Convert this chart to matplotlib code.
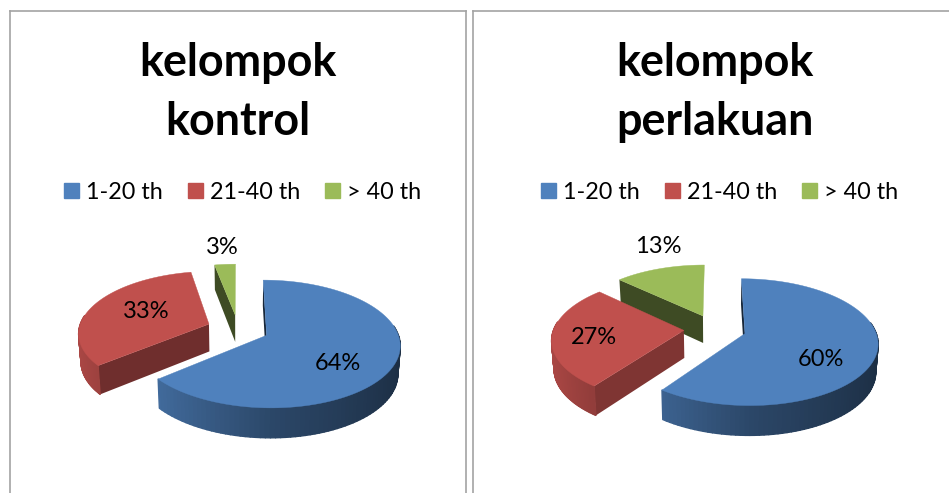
import matplotlib
matplotlib.use("Agg")
import matplotlib.pyplot as plt
import numpy as np
from matplotlib.collections import PolyCollection
from matplotlib.lines import Line2D
from matplotlib.patches import Polygon

categories = ["1-20 th", "21-40 th", "> 40 th"]
titles = ["kelompok\nkontrol", "kelompok\nperlakuan"]
kontrol = [64, 33, 3]
perlakuan = [60, 27, 13]

colors = ["#4f81bd", "#c0504d", "#9bbb59"]
W, H = 949, 493
EXPLODE = 0.24
# perspective of the 3d pie, in pixels per unit radius
SCALE_X, SCALE_Y, TILT = 130, 61, 0.134

plt.rcParams["font.family"] = ["Lato", "DejaVu Sans"]


def project(x, y, center, bottom=False):
    w = 1 + TILT * y
    px = SCALE_X * x / w
    py = SCALE_Y * y / w
    if bottom:
        px = px * 0.985
        py = py - (27.5 - 2.2 * y)
    return center[0] + px, center[1] - py


def shade(color, factor):
    return tuple(c * factor for c in matplotlib.colors.to_rgb(color))


def draw_slice(ax, wedge, color, center, wall_shade):
    t = np.radians(np.linspace(wedge.theta1, wedge.theta2, 120))
    ox, oy = wedge.center
    x = ox + np.cos(t)
    y = oy + np.sin(t)

    # flat cut faces, only the ones turned to the viewer
    for angle, sign in ((t[0], 1), (t[-1], -1)):
        nx, ny = sign * np.sin(angle), -sign * np.cos(angle)
        if ny < -1e-6 or (abs(ny) < 1e-6 and nx < 0):
            ex = np.array([ox, ox + np.cos(angle)])
            ey = np.array([oy, oy + np.sin(angle)])
            tx, ty = project(ex, ey, center)
            bx, by = project(ex, ey, center, bottom=True)
            pts = np.c_[np.r_[tx, bx[::-1]], np.r_[ty, by[::-1]]]
            ax.add_patch(Polygon(pts, fc=shade(color, wall_shade), ec="none", zorder=2))

    # rounded side, shaded strip by strip
    tx, ty = project(x, y, center)
    bx, by = project(x, y, center, bottom=True)
    keep = [i for i in range(len(t) - 1) if np.sin(t[i]) < 0.15]
    quads = [[(tx[i], ty[i]), (tx[i + 1], ty[i + 1]), (bx[i + 1], by[i + 1]), (bx[i], by[i])]
             for i in keep]
    factors = np.interp(np.cos(t[keep]), [-1, 0, 1], [0.9, 0.55, 0.36])
    side = PolyCollection(quads, facecolors=[shade(color, f) for f in factors],
                          edgecolors="face", linewidths=1.0, zorder=3)
    ax.add_collection(side)

    # top face
    fx, fy = project(np.r_[ox, x], np.r_[oy, y], center)
    ax.add_patch(Polygon(np.c_[fx, fy], fc=color, ec=color, lw=0.3, zorder=4))


def draw_panel(left, right, top, bottom, center, values, title, label_pos, wall_shades):
    ax = fig.add_axes([left / W, 1 - bottom / H, (right - left) / W, (bottom - top) / H])
    wedges, _ = ax.pie(values, explode=[EXPLODE] * len(values), startangle=90, counterclock=False)
    ax.set_aspect("auto")
    ax.set_frame_on(True)
    ax.set_xlim(left, right)
    ax.set_ylim(bottom, top)
    ax.set_xticks([])
    ax.set_yticks([])
    for s in ax.spines.values():
        s.set_color("#a3a3a3")
        s.set_linewidth(1.2)

    geometry = list(wedges)
    for w in wedges:
        w.remove()
    # back slices first, the big blue one last
    for i in (2, 1, 0):
        draw_slice(ax, geometry[i], colors[i], center, wall_shades[i])

    for v, (lx, ly) in zip(values, label_pos):
        ax.text(lx, ly, f"{v}%", fontsize=17, color="black", ha="center", va="center", zorder=6)

    ax.text(center[0], 92.5, title, fontsize=32.3, fontweight="bold", color="black",
            ha="center", va="center", linespacing=1.49)

    handles = [Line2D([], [], marker="s", linestyle="none", color=c, markersize=10.8) for c in colors]
    ax.legend(handles, categories, ncol=3, frameon=False, fontsize=16.8, loc="center",
              bbox_to_anchor=((center[0] + 4 - left) / (right - left), (bottom - 192) / (bottom - top)),
              handlelength=0.7, handletextpad=0.3, columnspacing=1.0, labelcolor="black",
              borderpad=0, borderaxespad=0)
    return ax


fig = plt.figure(figsize=(W / 100, H / 100), dpi=100, facecolor="white")
draw_panel(10, 466, 11, 520, (238, 329), kontrol, titles[0],
           [(338, 363), (146, 311), (222, 247)], [0.3, 0.58, 0.4])
draw_panel(473, 959, 11, 520, (715, 329), perlakuan, titles[1],
           [(821, 359), (594, 337), (658, 246)], [0.3, 0.66, 0.4])
fig.savefig("out.png", dpi=100)
